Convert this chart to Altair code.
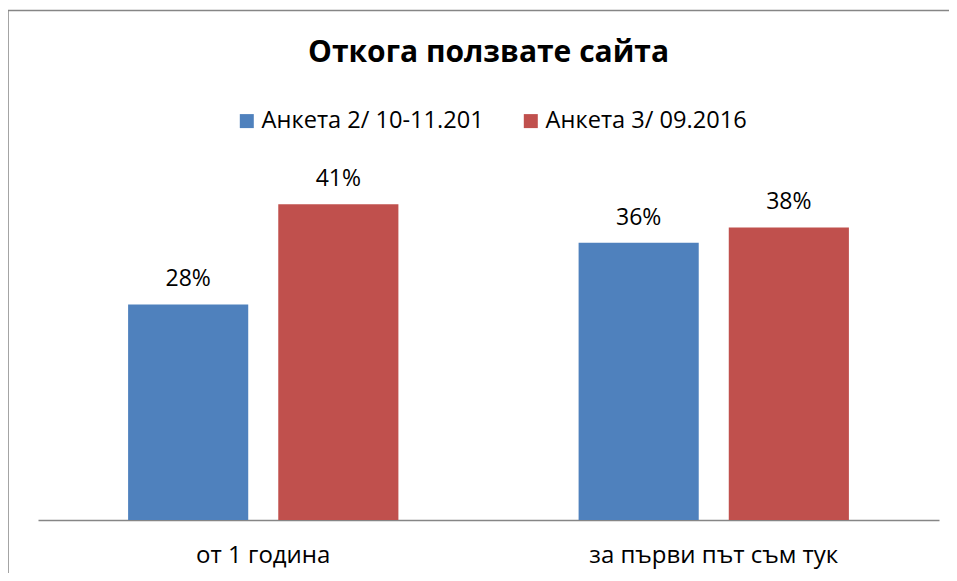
import altair as alt
import pandas as pd

categories = ["от 1 година", "за първи път съм тук"]
series = ["Анкета 2/ 10-11.201", "Анкета 3/ 09.2016"]
values_s1 = [0.28, 0.36]
values_s2 = [0.41, 0.38]
colors = ["#4F81BD", "#C0504D"]

rows = []
for i, c in enumerate(categories):
    rows.append({"cat": c, "series": series[0], "value": values_s1[i]})
    rows.append({"cat": c, "series": series[1], "value": values_s2[i]})
df = pd.DataFrame(rows)

FONT = "Open Sans"

x_enc = alt.X("cat:N", sort=categories, title=None,
              scale=alt.Scale(paddingInner=0, paddingOuter=0),
              axis=alt.Axis(labelAngle=0, ticks=False, domainColor="#868686",
                            domainWidth=1.5, labelFontSize=24, labelFont=FONT,
                            labelColor="#000000", labelPadding=23, grid=False,
                            labelLimit=0))
xoff = alt.XOffset("series:N", sort=series,
                   scale=alt.Scale(paddingInner=0.2, paddingOuter=0.6))
y_enc = alt.Y("value:Q", scale=alt.Scale(domain=[0, 0.5]), axis=None)

base = alt.Chart(df)

bars = base.mark_bar().encode(
    x=x_enc, xOffset=xoff, y=y_enc,
    color=alt.Color("series:N", sort=series,
                    scale=alt.Scale(domain=series, range=colors),
                    legend=alt.Legend(title=None, orient="none", direction="horizontal",
                                      legendX=197, legendY=-26, symbolType="square",
                                      symbolSize=196, symbolStrokeWidth=0,
                                      labelFontSize=23.6, labelFont=FONT, labelColor="#000000",
                                      labelOffset=3, columnPadding=35, labelLimit=0)),
)

labels = base.mark_text(baseline="alphabetic", dy=-18, fontSize=23, font=FONT, color="#000000").encode(
    x=alt.X("cat:N", sort=categories), xOffset=xoff, y=y_enc,
    text=alt.Text("value:Q", format=".0%"),
)

frame_df = pd.DataFrame({"a": [0]})
frame_top = alt.Chart(frame_df).mark_rule(stroke="#868686", strokeWidth=1.5).encode(
    x=alt.value(-30), x2=alt.value(911), y=alt.value(-124.5))
frame_left = alt.Chart(frame_df).mark_rule(stroke="#868686", strokeWidth=1.5).encode(
    x=alt.value(-30), y=alt.value(-124.5), y2=alt.value(440))

chart = alt.layer(frame_top, frame_left, bars, labels).properties(
    width=901, height=385,
    autosize=alt.AutoSizeParams(type="none"),
    padding={"left": 30, "top": 127, "right": 10, "bottom": 53},
    title=alt.TitleParams("Откога ползвате сайта", anchor="middle", fontSize=30,
                          font=FONT, fontWeight="bold", color="#000000", dy=62),
).configure_view(strokeWidth=0)

chart.save("out.html", embed_options={"renderer": "svg", "actions": False})
